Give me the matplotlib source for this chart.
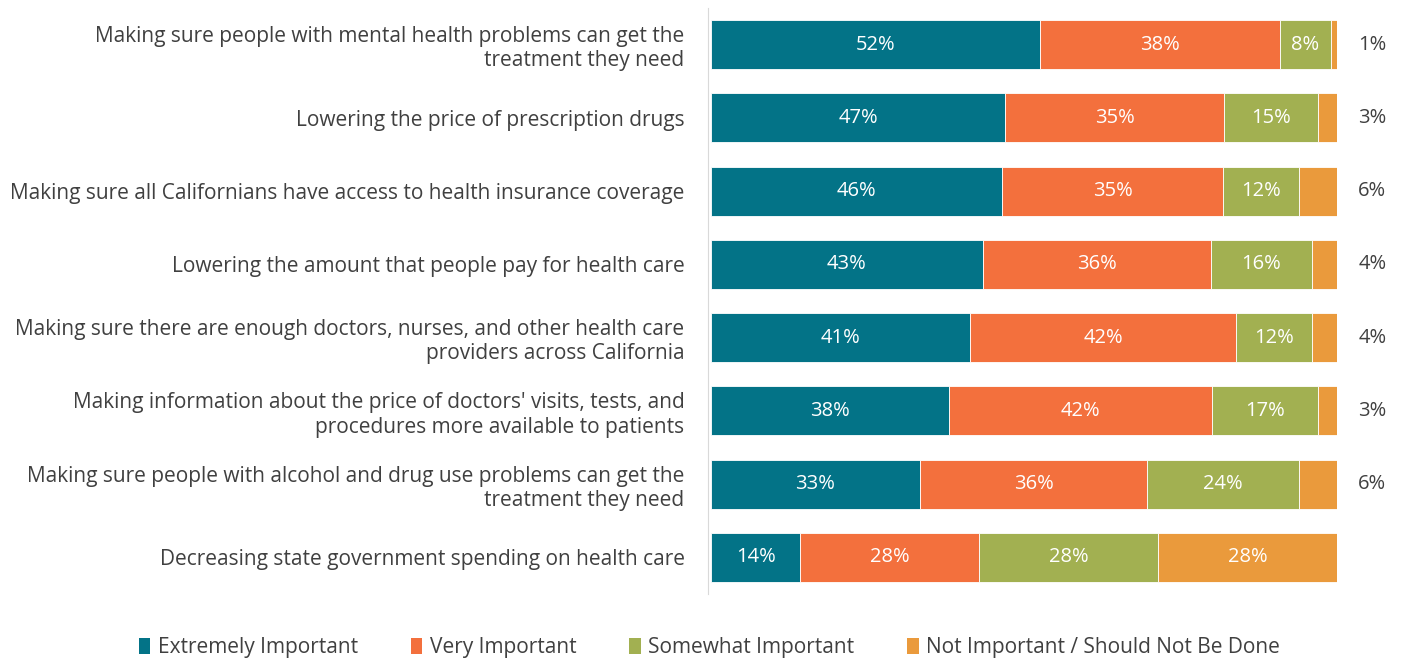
import numpy as np
import matplotlib.pyplot as plt
from matplotlib.patches import Patch

plt.rcParams['font.family'] = ['Open Sans', 'DejaVu Sans']

# Survey items, top to bottom
categories = [
    "Making sure people with mental health problems can get the\ntreatment they need",
    "Lowering the price of prescription drugs",
    "Making sure all Californians have access to health insurance coverage",
    "Lowering the amount that people pay for health care",
    "Making sure there are enough doctors, nurses, and other health care\nproviders across California",
    "Making information about the price of doctors' visits, tests, and\nprocedures more available to patients",
    "Making sure people with alcohol and drug use problems can get the\ntreatment they need",
    "Decreasing state government spending on health care",
]

extremely = [52, 47, 46, 43, 41, 38, 33, 14]
very = [38, 35, 35, 36, 42, 42, 36, 28]
somewhat = [8, 15, 12, 16, 12, 17, 24, 28]
not_important = [1, 3, 6, 4, 4, 3, 6, 28]

series_names = ["Extremely Important", "Very Important", "Somewhat Important",
                "Not Important / Should Not Be Done"]
colors = ["#037387", "#F3703D", "#A2B051", "#EA9A3C"]
text_color = "#404040"

data = np.array([extremely, very, somewhat, not_important], dtype=float)
totals = data.sum(axis=0)
shares = data / totals  # 100% stacked

fig = plt.figure(figsize=(14.05, 6.6), dpi=100)
ax = fig.add_axes([0.506, 0.1, 0.4456, 0.888])

y = np.arange(len(categories))
left = np.zeros(len(categories))
last = len(series_names) - 1
for i, (name, color) in enumerate(zip(series_names, colors)):
    ax.barh(y, shares[i], left=left, height=0.67, color=color,
            edgecolor="white", linewidth=0.6)
    for j in range(len(categories)):
        val = int(data[i, j])
        w = shares[i, j]
        if i == last and val < 10:
            # small slices get their label beside the bar
            ax.text(1.034, y[j], f"{val}%", ha="left", va="center",
                    color=text_color, fontsize=14.5, clip_on=False)
        else:
            ax.text(left[j] + w / 2, y[j], f"{val}%", ha="center", va="center",
                    color="white", fontsize=14.5)
    left += shares[i]

ax.set_xlim(0, 1)
ax.set_ylim(len(categories) - 0.5, -0.5)
ax.set_yticks(y)
ax.set_yticklabels(categories, linespacing=1.25)
ax.tick_params(axis="y", length=0, pad=17, labelsize=15, labelcolor=text_color)
ax.set_xticks([])
for side in ["top", "right", "bottom"]:
    ax.spines[side].set_visible(False)
ax.spines["left"].set_color("#d9d9d9")
ax.spines["left"].set_position(("outward", 2))

handles = [Patch(facecolor=c, label=n) for c, n in zip(colors, series_names)]
leg = fig.legend(handles=handles, loc="lower center", ncol=4, frameon=False,
                 fontsize=15, bbox_to_anchor=(0.505, -0.026), handlelength=0.55,
                 handleheight=0.8, handletextpad=0.35, columnspacing=2.55)
for t in leg.get_texts():
    t.set_color(text_color)

fig.savefig("out.png", dpi=100)
